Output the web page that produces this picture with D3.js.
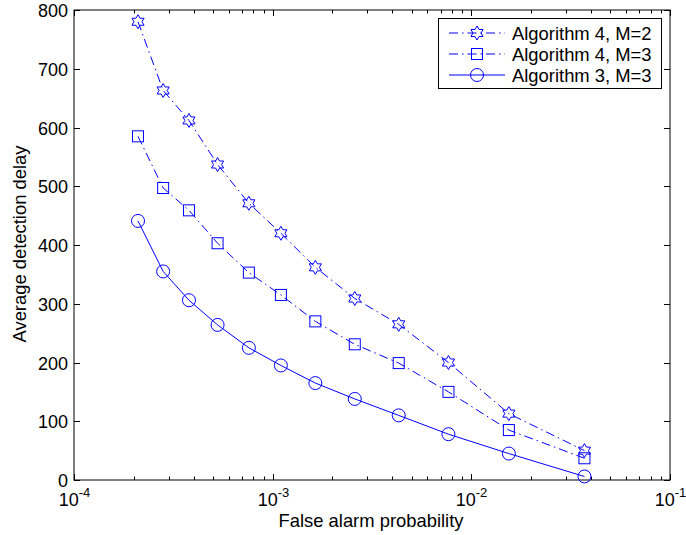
<!DOCTYPE html>
<html>
<head>
<meta charset="utf-8">
<script src="https://cdn.jsdelivr.net/npm/d3@7"></script>
<style>
  body { margin: 0; background: #fff; }
  svg { display: block; font-family: "Liberation Sans", Arial, sans-serif; }
</style>
</head>
<body>
<svg width="686" height="535"></svg>
<script>
// false alarm probability (shared by all three curves)
const falseAlarm = [2.10e-4, 2.81e-4, 3.79e-4, 5.28e-4, 7.59e-4, 1.10e-3,
                    1.64e-3, 2.59e-3, 4.31e-3, 7.67e-3, 1.545e-2, 3.71e-2];
const alg4M2 = [780, 663, 612, 537, 471, 420, 362, 309, 265, 200, 113, 50];
const alg4M3 = [585, 497, 459, 403, 353, 315, 270, 231, 199, 150, 85, 37];
const alg3M3 = [441, 355, 306, 264, 225, 195, 165, 138, 110, 78, 45, 6];
const seriesNames = ["Algorithm 4, M=2", "Algorithm 4, M=3", "Algorithm 3, M=3"];
const yTicks = [0, 100, 200, 300, 400, 500, 600, 700, 800];
const xDecades = [-4, -3, -2, -1];

const svg = d3.select("svg");
const area = { left: 74, right: 670, top: 10, bottom: 480 };
const blue = "#0000ff";
const fs = 18;

const scX = d3.scaleLog().domain([1e-4, 1e-1]).range([area.left, area.right]);
const scY = d3.scaleLinear().domain([0, 800]).range([area.bottom, area.top]);

// axes box
svg.append("rect")
  .attr("x", area.left).attr("y", area.top)
  .attr("width", area.right - area.left).attr("height", area.bottom - area.top)
  .attr("fill", "none").attr("stroke", "#000").attr("stroke-width", 1);

const tickLen = 6, minorLen = 3.5;
const ticks = svg.append("g").attr("stroke", "#000").attr("stroke-width", 1);

// y ticks, left and right, pointing inward
yTicks.forEach(v => {
  const y = Math.round(scY(v)) + 0.5;
  ticks.append("line").attr("x1", area.left).attr("x2", area.left + tickLen).attr("y1", y).attr("y2", y);
  ticks.append("line").attr("x1", area.right).attr("x2", area.right - tickLen).attr("y1", y).attr("y2", y);
  svg.append("text")
    .attr("x", area.left - 6).attr("y", y + 6.5)
    .attr("text-anchor", "end").attr("font-size", fs)
    .text(v);
});

// x ticks, major and minor, top and bottom
for (let i = 0; i < xDecades.length; i++) {
  const e = xDecades[i];
  const x = Math.round(scX(Math.pow(10, e))) + 0.5;
  ticks.append("line").attr("x1", x).attr("x2", x).attr("y1", area.bottom).attr("y2", area.bottom - tickLen);
  ticks.append("line").attr("x1", x).attr("x2", x).attr("y1", area.top).attr("y2", area.top + tickLen);
  const lbl = svg.append("text")
    .attr("x", x).attr("y", area.bottom + 26)
    .attr("text-anchor", "middle").attr("font-size", fs);
  lbl.append("tspan").text("10");
  lbl.append("tspan").attr("dy", -9).attr("font-size", 13).text("-" + Math.abs(e));
  if (i < xDecades.length - 1) {
    for (let m = 2; m <= 9; m++) {
      const xm = Math.round(scX(m * Math.pow(10, e))) + 0.5;
      ticks.append("line").attr("x1", xm).attr("x2", xm).attr("y1", area.bottom).attr("y2", area.bottom - minorLen);
      ticks.append("line").attr("x1", xm).attr("x2", xm).attr("y1", area.top).attr("y2", area.top + minorLen);
    }
  }
}

// axis labels
svg.append("text")
  .attr("x", (area.left + area.right) / 2 - 1).attr("y", 527)
  .attr("text-anchor", "middle").attr("font-size", 18.4)
  .text("False alarm probability");
svg.append("text")
  .attr("transform", `translate(26, ${(area.top + area.bottom) / 2 - 1}) rotate(-90)`)
  .attr("text-anchor", "middle").attr("font-size", 18.4)
  .text("Average detection delay");

// markers
function hexagram(r) {
  const pts = [];
  const ri = r / Math.sqrt(3);
  for (let k = 0; k < 12; k++) {
    const ang = -Math.PI / 2 + k * Math.PI / 6;
    const rr = k % 2 === 0 ? r : ri;
    pts.push([rr * Math.cos(ang), rr * Math.sin(ang)]);
  }
  return "M" + pts.map(p => p[0].toFixed(2) + "," + p[1].toFixed(2)).join("L") + "Z";
}
function drawMarker(g, type, x, y) {
  if (type === "star") {
    g.append("path").attr("d", hexagram(7)).attr("transform", `translate(${x},${y})`);
  } else if (type === "square") {
    g.append("rect").attr("x", x - 5.5).attr("y", y - 5.5).attr("width", 11).attr("height", 11);
  } else {
    g.append("circle").attr("cx", x).attr("cy", y).attr("r", 6.5);
  }
}

const series = [
  { name: seriesNames[0], values: alg4M2, marker: "star", dash: "9,4,1.5,4" },
  { name: seriesNames[1], values: alg4M3, marker: "square", dash: "9,4,1.5,4" },
  { name: seriesNames[2], values: alg3M3, marker: "circle", dash: null }
];

const line = d3.line().x(d => scX(d[0])).y(d => scY(d[1]));

series.forEach(s => {
  const pts = falseAlarm.map((f, i) => [f, s.values[i]]);
  svg.append("path")
    .datum(pts)
    .attr("d", line)
    .attr("fill", "none").attr("stroke", blue).attr("stroke-width", 1)
    .attr("stroke-dasharray", s.dash);
  const g = svg.append("g").attr("fill", "none").attr("stroke", blue).attr("stroke-width", 1);
  pts.forEach(p => drawMarker(g, s.marker, scX(p[0]), scY(p[1])));
});

// legend
const leg = { x: 438, y: 18, w: 223, h: 70 };
svg.append("rect")
  .attr("x", leg.x + 0.5).attr("y", leg.y + 0.5)
  .attr("width", leg.w).attr("height", leg.h)
  .attr("fill", "#fff").attr("stroke", "#000").attr("stroke-width", 1);
series.forEach((s, i) => {
  const y = leg.y + 15 + i * 21;
  svg.append("line")
    .attr("x1", leg.x + 11).attr("x2", leg.x + 67).attr("y1", y).attr("y2", y)
    .attr("stroke", blue).attr("stroke-width", 1).attr("stroke-dasharray", s.dash);
  const g = svg.append("g").attr("fill", "none").attr("stroke", blue).attr("stroke-width", 1);
  drawMarker(g, s.marker, leg.x + 39, y);
  svg.append("text")
    .attr("x", leg.x + 74).attr("y", y + 6.5)
    .attr("font-size", 18.4)
    .text(s.name);
});
</script>
</body>
</html>
